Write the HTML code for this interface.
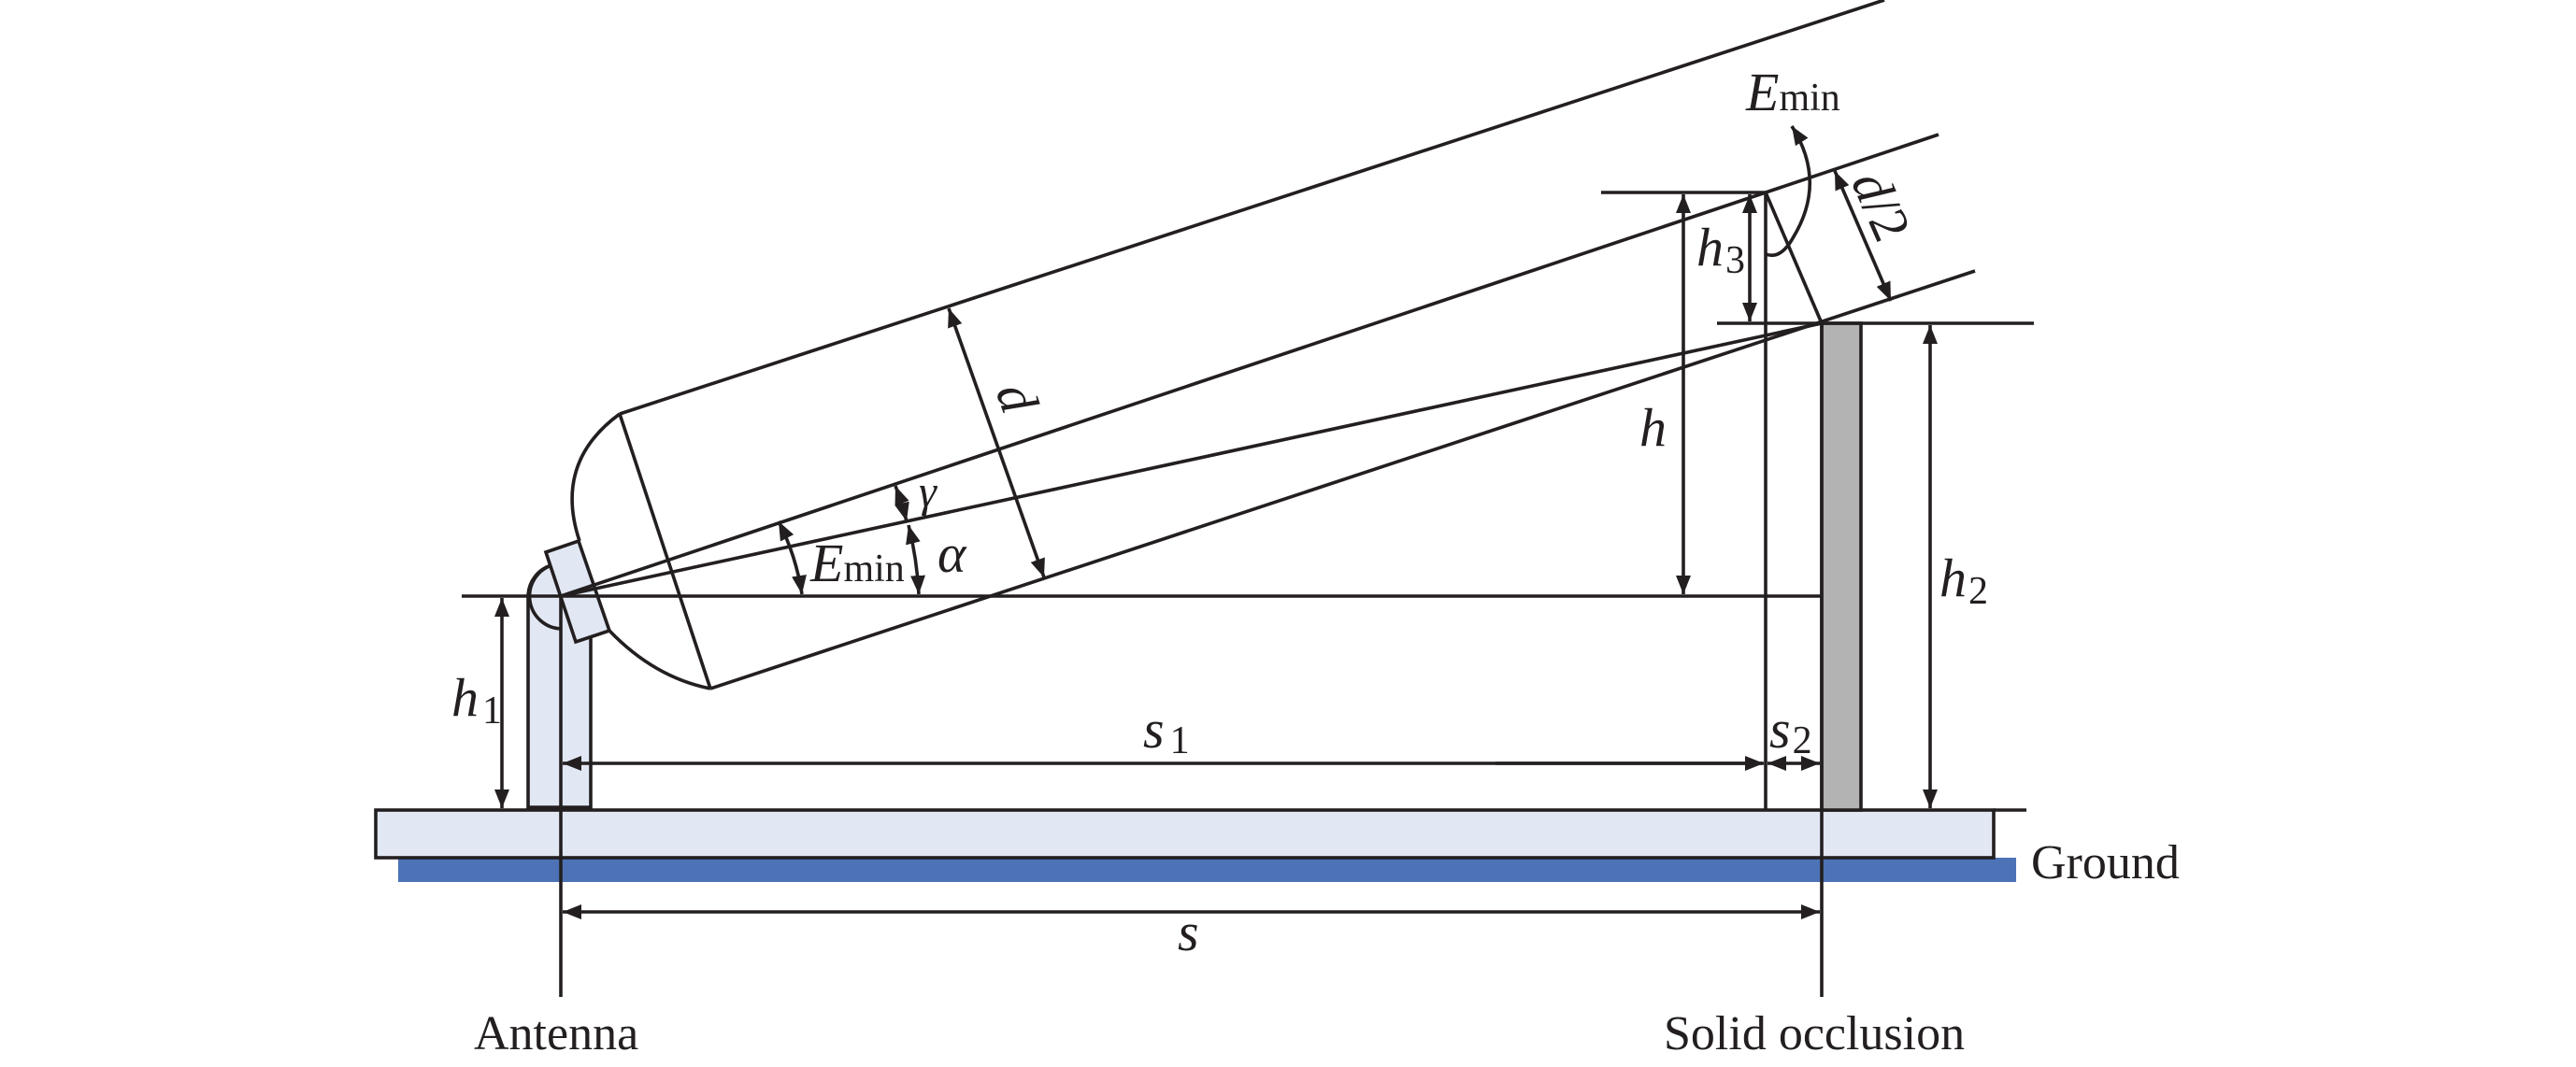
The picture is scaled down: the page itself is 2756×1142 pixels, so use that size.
<!DOCTYPE html>
<html><head><meta charset="utf-8"><style>
html,body{margin:0;padding:0;background:#fff;}
svg{display:block;}
text{font-family:"Liberation Serif",serif;fill:#231f20;}
.v{font-style:italic;}
</style></head><body>
<svg width="2756" height="1142" viewBox="0 0 2756 1142" xmlns="http://www.w3.org/2000/svg">
<defs>
<marker id="a" viewBox="0 0 10 10" refX="10" refY="5" markerWidth="20" markerHeight="16" markerUnits="userSpaceOnUse" orient="auto-start-reverse" preserveAspectRatio="none">
<path d="M0,0 L10,5 L0,10 z" fill="#231f20"/></marker>
</defs>
<g stroke="#231f20" stroke-width="3.6" fill="none">
<!-- ground -->
<rect x="426" y="918" width="1731" height="26" fill="#4d72b6" stroke="none"/>
<rect x="402" y="867" width="1731" height="51" fill="#e1e7f3"/>
<line x1="2133" y1="867" x2="2168" y2="867"/>
<!-- pole -->
<path d="M565,864 L565,638 A35,35 0 0 1 590,605 L632,660 L632,864 Z" fill="#e1e7f3"/>
<path d="M590,605 A35,35 0 0 0 600,673"/>
<!-- wall -->
<rect x="1949" y="346" width="42" height="521" fill="#b3b3b3"/>
<!-- dish -->
<path d="M620,579 Q592,495 663,443" />
<path d="M652,675 Q700,725 760,737"/>
<line x1="663" y1="443" x2="760" y2="737"/>
<polygon points="584,591 619,579 652,675 616,687" fill="#e1e7f3"/>
<!-- beam -->
<line x1="663" y1="443" x2="2016" y2="0"/>
<line x1="760" y1="737" x2="2113" y2="290"/>
<line x1="600" y1="638" x2="2074" y2="144"/>
<line x1="600" y1="638" x2="1949" y2="346"/>
<line x1="1889" y1="206" x2="1949" y2="346"/>
<!-- horizontals -->
<line x1="494" y1="638" x2="1949" y2="638"/>
<line x1="1713" y1="206" x2="1889" y2="206"/>
<line x1="1837" y1="346" x2="2176" y2="346"/>
<!-- verticals -->
<line x1="1889" y1="206" x2="1889" y2="867"/>
<line x1="600" y1="638" x2="600" y2="1067"/>
<line x1="1949" y1="346" x2="1949" y2="1067"/>
<!-- dimension arrows -->
<line x1="1885" y1="817" x2="602" y2="817" marker-end="url(#a)"/>
<line x1="1600" y1="817" x2="1887" y2="817" marker-end="url(#a)"/>
<line x1="1891" y1="817" x2="1947" y2="817" marker-start="url(#a)" marker-end="url(#a)"/>
<line x1="602" y1="976" x2="1947" y2="976" marker-start="url(#a)" marker-end="url(#a)"/>
<line x1="537" y1="640" x2="537" y2="865" marker-start="url(#a)" marker-end="url(#a)"/>
<line x1="1801" y1="208" x2="1801" y2="636" marker-start="url(#a)" marker-end="url(#a)"/>
<line x1="1872" y1="208" x2="1872" y2="344" marker-start="url(#a)" marker-end="url(#a)"/>
<line x1="2065" y1="348" x2="2065" y2="865" marker-start="url(#a)" marker-end="url(#a)"/>
<line x1="1015" y1="330" x2="1117" y2="618" marker-start="url(#a)" marker-end="url(#a)"/>
<line x1="1963" y1="183" x2="2023" y2="322" marker-start="url(#a)" marker-end="url(#a)"/>
<!-- angle arcs -->
<path d="M833,558 A258,258 0 0 1 858,636" marker-start="url(#a)" marker-end="url(#a)"/>
<path d="M972,562 A383,383 0 0 1 983,636" marker-start="url(#a)" marker-end="url(#a)"/>
<path d="M958,520 A380,380 0 0 1 970,558" marker-start="url(#a)" marker-end="url(#a)"/>
<path d="M1889,272 Q1905,278 1918,255 Q1955,195 1917,135" marker-end="url(#a)"/>
</g>
<!-- labels -->
<g font-size="52">
<text x="507" y="1123">Antenna</text>
<text x="1780" y="1123">Solid occlusion</text>
<text x="2173" y="940">Ground</text>
</g>
<g font-size="58">
<text x="867" y="622" class="v">E<tspan font-style="normal" font-size="42">min</tspan></text>
<text x="1868" y="118" class="v">E<tspan font-style="normal" font-size="42">min</tspan></text>
<text x="1003" y="612" class="v">α</text>
<text x="983" y="542" class="v" font-size="48">γ</text>
<text x="483" y="766" class="v">h<tspan font-style="normal" font-size="42" dx="4" dy="8">1</tspan></text>
<text x="1754" y="477" class="v">h</text>
<text x="1815" y="284" class="v">h<tspan font-style="normal" font-size="42" dx="2" dy="8">3</tspan></text>
<text x="2075" y="638" class="v">h<tspan font-style="normal" font-size="42" dx="2" dy="8">2</tspan></text>
<text x="1223" y="800" class="v">s<tspan font-style="normal" font-size="42" dx="6" dy="6">1</tspan></text>
<text x="1893" y="800" class="v">s<tspan font-style="normal" font-size="42" dx="2" dy="6">2</tspan></text>
<text x="1260" y="1017" class="v">s</text>
<text class="v" transform="translate(1070,432) rotate(70.5)" text-anchor="middle">d</text>
<text transform="translate(1995,228) rotate(66.5)" text-anchor="middle"><tspan class="v">d</tspan>/2</text>
</g>
</svg>
</body></html>
